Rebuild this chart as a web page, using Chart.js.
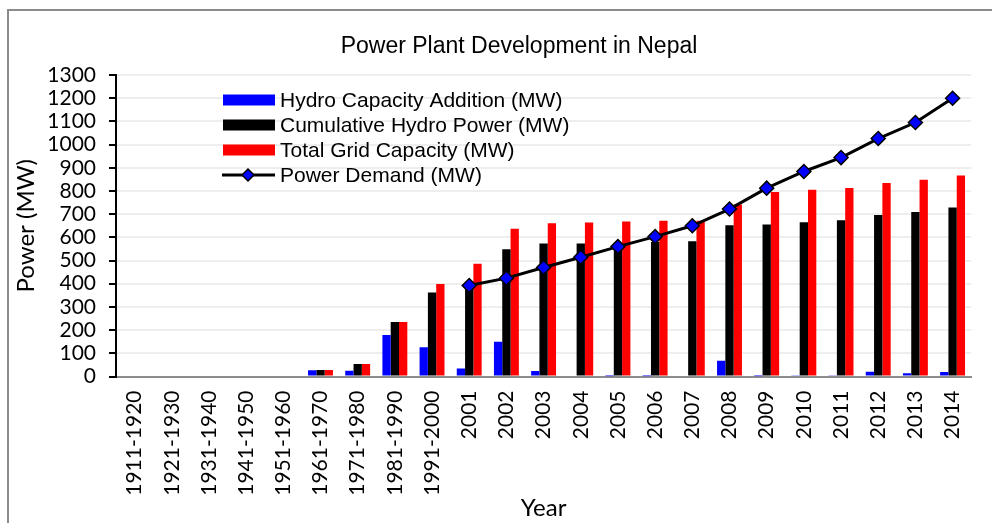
<!DOCTYPE html>
<html>
<head>
<meta charset="utf-8">
<title>Power Plant Development in Nepal</title>
<script src="https://cdn.jsdelivr.net/npm/chart.js@4.4.1/dist/chart.umd.min.js"></script>
<style>
  html, body { margin: 0; padding: 0; background: #fff; }
</style>
</head>
<body>
<canvas id="myChart" width="992" height="523"></canvas>
<script>
var chartTitle = 'Power Plant Development in Nepal';
var yTitle = 'Power (MW)';
var xTitle = 'Year';

var periods = ['1911-1920', '1921-1930', '1931-1940', '1941-1950', '1951-1960', '1961-1970',
  '1971-1980', '1981-1990', '1991-2000', '2001', '2002', '2003', '2004', '2005', '2006',
  '2007', '2008', '2009', '2010', '2011', '2012', '2013', '2014'];

// MW per period
var hydroAddition = [0, 0, 0, 0, 0, 27, 25, 179, 126, 35, 150, 24, 0, 1, 1, 0, 68, 1, 3, 3, 21, 14, 19];
var cumulativeHydro = [0, 0, 0, 0, 0, 28, 54, 235, 362, 390, 549, 573, 573, 575, 580, 583, 652, 655, 665, 674, 696, 709, 729];
var totalGrid = [0, 0, 0, 0, 0, 28, 54, 235, 399, 486, 637, 661, 664, 668, 672, 672, 742, 795, 805, 813, 834, 848, 867];
var powerDemand = [null, null, null, null, null, null, null, null, null,
  392, 424, 470, 514, 560, 603, 650, 722, 812, 884, 944, 1026, 1095, 1200];

var yMax = 1300;
var yStep = 100;

// frame, title and the in-plot legend
var decor = {
  id: 'decor',
  afterDraw: function(chart) {
    var ctx = chart.ctx;
    ctx.save();

    ctx.strokeStyle = '#8c8c8c';
    ctx.lineWidth = 2;
    ctx.beginPath();
    ctx.moveTo(8, 523);
    ctx.lineTo(8, 10);
    ctx.lineTo(992, 10);
    ctx.stroke();

    ctx.fillStyle = '#000';
    ctx.font = '23px "Liberation Sans"';
    ctx.textAlign = 'center';
    ctx.textBaseline = 'middle';
    ctx.fillText(chartTitle, 519, 47);

    ctx.font = '21px "Liberation Sans"';
    ctx.textAlign = 'left';
    chart.data.datasets.forEach(function(ds, i) {
      var y = 100 + i * 25;
      if (ds.type === 'line') {
        ctx.strokeStyle = ds.borderColor;
        ctx.lineWidth = 3;
        ctx.beginPath();
        ctx.moveTo(222, y);
        ctx.lineTo(275, y);
        ctx.stroke();
        ctx.fillStyle = ds.pointBackgroundColor;
        ctx.lineWidth = 1.5;
        ctx.beginPath();
        ctx.moveTo(248, y - 6);
        ctx.lineTo(254, y);
        ctx.lineTo(248, y + 6);
        ctx.lineTo(242, y);
        ctx.closePath();
        ctx.fill();
        ctx.stroke();
      } else {
        ctx.fillStyle = ds.backgroundColor;
        ctx.fillRect(223, y - 5.5, 52, 11);
      }
      ctx.fillStyle = '#000';
      ctx.fillText(ds.label, 280, y + 1);
    });
    ctx.restore();
  }
};

var ctx = document.getElementById('myChart').getContext('2d');
var chart = new Chart(ctx, {
  type: 'bar',
  data: {
    labels: periods,
    datasets: [
      {
        label: 'Hydro Capacity Addition (MW)',
        data: hydroAddition,
        backgroundColor: '#0000ff',
        order: 1
      },
      {
        label: 'Cumulative Hydro Power (MW)',
        data: cumulativeHydro,
        backgroundColor: '#000000',
        order: 1
      },
      {
        label: 'Total Grid Capacity (MW)',
        data: totalGrid,
        backgroundColor: '#ff0000',
        order: 1
      },
      {
        type: 'line',
        label: 'Power Demand (MW)',
        data: powerDemand,
        borderColor: '#000000',
        borderWidth: 3,
        pointStyle: 'rectRot',
        pointRadius: 7,
        pointBackgroundColor: '#0000ff',
        pointBorderColor: '#000000',
        pointBorderWidth: 1.5,
        tension: 0,
        order: 0
      }
    ]
  },
  options: {
    responsive: false,
    animation: false,
    layout: { padding: { left: 10, right: 10, top: 75, bottom: 0 } },
    datasets: {
      bar: { barPercentage: 1, categoryPercentage: 0.67 }
    },
    plugins: {
      legend: { display: false },
      tooltip: { enabled: false }
    },
    scales: {
      x: {
        ticks: {
          color: '#000',
          font: { family: 'Lato', size: 21 },
          minRotation: 90,
          maxRotation: 90,
          autoSkip: false,
          padding: 14
        },
        grid: { drawOnChartArea: false, drawTicks: false },
        border: { color: '#8c8c8c', width: 2 },
        title: {
          display: true,
          text: xTitle,
          color: '#000',
          font: { family: 'Lato', size: 24 },
          padding: { top: 0, bottom: 0 }
        },
        afterFit: function(scale) { scale.height = 146.5; }
      },
      y: {
        min: 0,
        max: yMax,
        ticks: {
          stepSize: yStep,
          autoSkip: false,
          color: '#000',
          font: { family: 'Lato', size: 21 },
          padding: 13,
          callback: function(value) { return String(value); }
        },
        grid: { color: '#eeeeee', lineWidth: 2, tickColor: '#000', tickLength: 7, tickWidth: 2 },
        border: { color: '#000', width: 2 },
        title: {
          display: true,
          text: yTitle,
          color: '#000',
          font: { family: 'Lato', size: 24 },
          padding: { top: 2, bottom: 0 }
        },
        afterFit: function(scale) { scale.width = 106; }
      }
    }
  },
  plugins: [decor]
});
</script>
</body>
</html>
